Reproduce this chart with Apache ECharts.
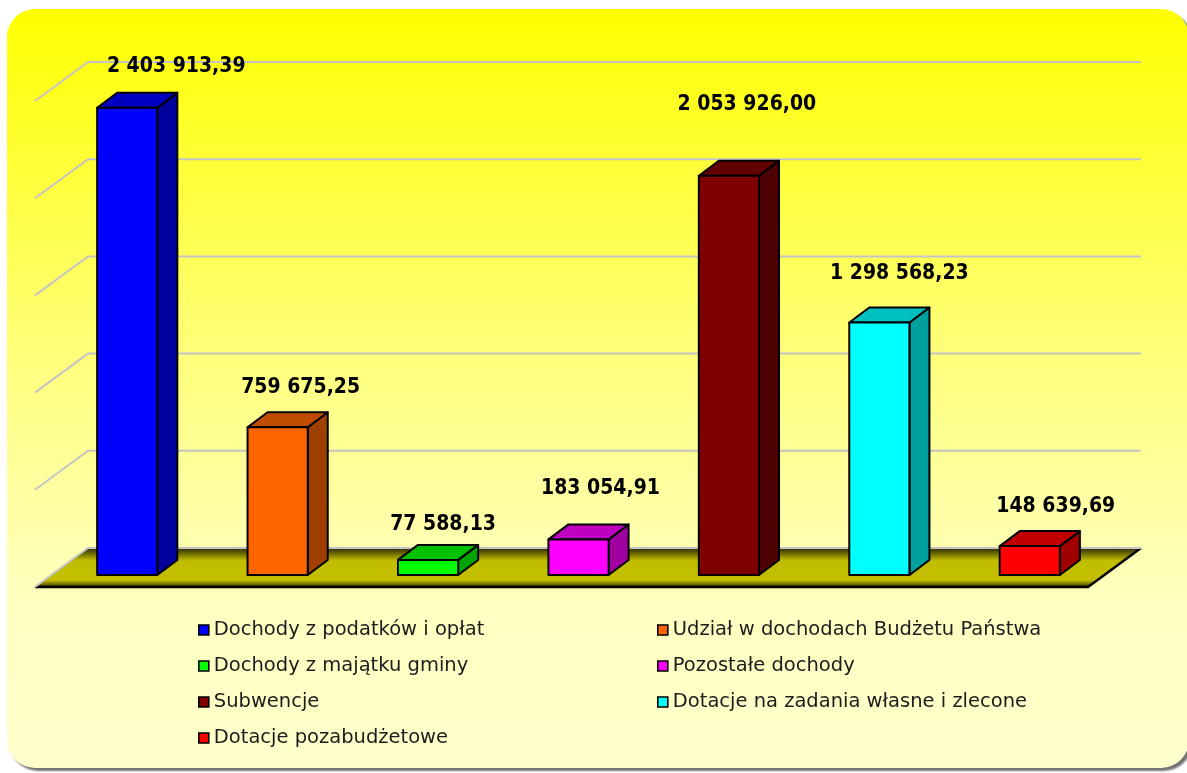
<!DOCTYPE html>
<html>
<head>
<meta charset="utf-8">
<title>Dochody</title>
<script src="https://cdn.jsdelivr.net/npm/echarts@6/dist/echarts.min.js"></script>
<style>
  html, body { margin: 0; padding: 0; background: #fff; }
  #chart { width: 1187px; height: 773px; }
</style>
</head>
<body>
<div id="chart"></div>
<script>
// data
const categories = [
  'Dochody z podatków i opłat',
  'Udział w dochodach Budżetu Państwa',
  'Dochody z majątku gminy',
  'Pozostałe dochody',
  'Subwencje',
  'Dotacje na zadania własne i zlecone',
  'Dotacje pozabudżetowe'
];
const values = [2403913.39, 759675.25, 77588.13, 183054.91, 2053926.00, 1298568.23, 148639.69];
const gridTicks = [0, 500000, 1000000, 1500000, 2000000, 2500000];

// colours: front face, top face, side face
const frontColors = ['#0000ff', '#ff6600', '#00ff00', '#ff00ff', '#800000', '#00ffff', '#ff0000'];
const topColors = ['#0000c0', '#c04c00', '#00c000', '#c000c0', '#600000', '#00c0c0', '#c00000'];
const sideColors = ['#00009c', '#a04000', '#00a400', '#a000a0', '#4c0000', '#00a0a0', '#a00000'];
// small label nudges (px) the way the original placed them
const labelNudge = [[27, 4], [1, 5], [-7, 10], [0, -6], [-4, -26], [-2, -4], [4, 5]];

// fake 3d offsets
const FRONT = { dx: -17, dy: 12 };   // bar plane -> floor front edge
const BACK = { dx: 36, dy: -27 };    // bar plane -> back wall
const DEPTH = { dx: 20, dy: -15 };   // bar depth

function fmt(v) {
  const parts = v.toFixed(2).split('.');
  return parts[0].replace(/\B(?=(\d{3})+(?!\d))/g, ' ') + ',' + parts[1];
}

const chart = echarts.init(document.getElementById('chart'));

const floorSeries = {
  type: 'custom',
  name: 'floor',
  z: 1,
  silent: true,
  data: [[0, 0]],
  renderItem: function (params, api) {
    const cs = params.coordSys;
    const y0 = api.coord([0, 0])[1];
    const l = cs.x, r = cs.x + cs.width;
    const fl = [l + FRONT.dx, y0 + FRONT.dy], fr = [r + FRONT.dx, y0 + FRONT.dy];
    const br = [r + BACK.dx, y0 + BACK.dy], bl = [l + BACK.dx, y0 + BACK.dy];
    return {
      type: 'group',
      children: [
        {
          type: 'polygon',
          shape: { points: [fl, fr, br, bl] },
          style: {
            fill: new echarts.graphic.LinearGradient(0, 0, 0, 1, [
              { offset: 0, color: '#2c2a00' },
              { offset: 0.32, color: '#c0bd00' },
              { offset: 0.82, color: '#c4c000' },
              { offset: 0.94, color: '#6a6800' },
              { offset: 1, color: '#000000' }
            ])
          }
        },
        {
          type: 'polyline',
          z2: 5,
          shape: { points: [fl, fr, br] },
          style: { stroke: '#000', lineWidth: 2.5, fill: null }
        }
      ]
    };
  }
};

const gridSeries = {
  type: 'custom',
  name: 'grid',
  z: 2,
  silent: true,
  data: gridTicks.map(v => [0, v]),
  renderItem: function (params, api) {
    const cs = params.coordSys;
    const y = api.coord([0, api.value(1)])[1];
    return {
      type: 'polyline',
      shape: {
        points: [
          [cs.x + FRONT.dx, y + FRONT.dy],
          [cs.x + BACK.dx, y + BACK.dy],
          [cs.x + cs.width + BACK.dx, y + BACK.dy]
        ]
      },
      style: { stroke: '#c4c4c4', lineWidth: 2, fill: null }
    };
  }
};

const barSeries = categories.map((name, i) => ({
  type: 'custom',
  name: name,
  z: 3,
  itemStyle: { color: frontColors[i] },
  data: [[i, values[i]]],
  renderItem: function (params, api) {
    const base = api.coord([api.value(0), 0]);
    const top = api.coord([api.value(0), api.value(1)]);
    const w = api.size([1, 0])[0] * 0.4;
    const x0 = base[0] - w / 2, x1 = base[0] + w / 2;
    const yb = base[1], yt = top[1];
    const line = { stroke: '#000', lineWidth: 2, lineJoin: 'round' };
    return {
      type: 'group',
      children: [
        {
          type: 'polygon',
          shape: { points: [[x1, yt], [x1 + DEPTH.dx, yt + DEPTH.dy], [x1 + DEPTH.dx, yb + DEPTH.dy], [x1, yb]] },
          style: Object.assign({ fill: sideColors[i] }, line)
        },
        {
          type: 'polygon',
          shape: { points: [[x0, yt], [x1, yt], [x1 + DEPTH.dx, yt + DEPTH.dy], [x0 + DEPTH.dx, yt + DEPTH.dy]] },
          style: Object.assign({ fill: topColors[i] }, line)
        },
        {
          type: 'rect',
          shape: { x: x0, y: yt, width: w, height: yb - yt },
          style: Object.assign({ fill: frontColors[i] }, line)
        },
        {
          type: 'text',
          style: {
            text: fmt(api.value(1)),
            x: base[0] + 22 + labelNudge[i][0],
            y: yt - 45 + labelNudge[i][1],
            align: 'center',
            verticalAlign: 'middle',
            font: 'bold 21px "DejaVu Sans Condensed", "DejaVu Sans", sans-serif',
            fill: '#000'
          }
        }
      ]
    };
  }
}));

const legendBase = {
  orient: 'vertical',
  top: 615,
  itemGap: 16,
  itemWidth: 10,
  itemHeight: 10,
  icon: 'rect',
  selectedMode: false,
  itemStyle: { borderColor: '#000', borderWidth: 1.6 },
  textStyle: { fontFamily: 'DejaVu Sans', fontSize: 19.5, color: '#1c1c1c' }
};

chart.setOption({
  animation: false,
  graphic: [{
    type: 'rect',
    z: -10,
    silent: true,
    shape: { x: 7, y: 9, width: 1182, height: 759, r: 28 },
    style: {
      fill: new echarts.graphic.LinearGradient(0, 0, 0, 1, [
        { offset: 0, color: '#ffff00' },
        { offset: 0.45, color: '#ffff7a' },
        { offset: 0.78, color: '#ffffc0' },
        { offset: 1, color: '#ffffcc' }
      ]),
      shadowColor: 'rgba(0,0,0,0.55)',
      shadowOffsetX: 3,
      shadowOffsetY: 3,
      shadowBlur: 2
    }
  }],
  grid: { left: 52, top: 89, width: 1053, height: 486 },
  xAxis: {
    type: 'category',
    data: categories,
    show: false
  },
  yAxis: {
    type: 'value',
    min: 0,
    max: 2500000,
    interval: 500000,
    show: false
  },
  legend: [
    Object.assign({}, legendBase, { left: 193, data: categories.filter((_, i) => i % 2 === 0) }),
    Object.assign({}, legendBase, { left: 652, data: categories.filter((_, i) => i % 2 === 1) })
  ],
  series: [floorSeries, gridSeries].concat(barSeries)
});
</script>
</body>
</html>
